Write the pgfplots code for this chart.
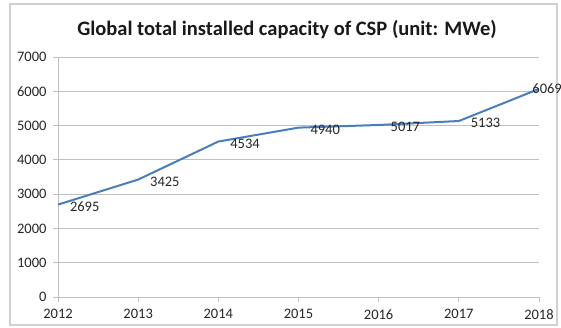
\documentclass[border=0pt]{standalone}
\usepackage{pgfplots}
\pgfplotsset{compat=1.18}
\usepackage{fontspec}
\setmainfont{Carlito}
\definecolor{linec}{HTML}{4A7EBB}
\definecolor{gridc}{HTML}{BFBFBF}
\definecolor{framec}{HTML}{D0D0D0}
\begin{document}
\begin{tikzpicture}[x=1pt,y=1pt]
\useasboundingbox (-58,-31) rectangle (503,297);
\draw[framec, line width=1.2pt] (-48,-28) rectangle (499,293);
\begin{axis}[
  at={(0,0)}, anchor=origin,
  scale only axis, width=481pt, height=240pt,
  xmin=2012, xmax=2018, ymin=0, ymax=7000,
  xtick={2012,...,2018}, ytick={0,1000,...,7000},
  /pgf/number format/assume math mode=true,
  xticklabel style={/pgf/number format/1000 sep={}, yshift=-4pt},
  yticklabel style={/pgf/number format/1000 sep={}, xshift=-3pt},
  ticklabel style={font=\fontsize{14.5}{16}\selectfont, text=black!85},
  axis x line*=bottom, axis y line*=left,
  axis line style={gridc, line width=0.8pt, -},
  x axis line style={-}, y axis line style={-},
  tick style={gridc, line width=0.8pt},
  tick align=outside, major tick length=5pt,
  ymajorgrids, grid style={gridc, line width=0.8pt},
  xtick pos=bottom, ytick pos=left,
  clip=false,
  point meta=explicit symbolic,
  nodes near coords style={anchor=west, inner sep=1pt, font=\fontsize{14.5}{16}\selectfont, text=black!85},
]
\addplot[linec, line width=2pt, mark=none, nodes near coords,
  nodes near coords style={xshift=10pt, yshift=-2pt}] table[meta=lab] {
x y lab
2012 2695 2695
2013 3425 3425
2014 4534 4534
2015 4940 4940
2016 5017 5017
2017 5133 5133
};
\addplot[linec, line width=2pt, mark=none, forget plot] table {
x y
2017 5133
2018 6069
};
\addplot[draw=none, mark=none, nodes near coords,
  nodes near coords style={anchor=east, xshift=24pt, yshift=0pt}] table[meta=lab] {
x y lab
2018 6069 6069
};
\end{axis}
\node[font=\fontsize{20.5}{24}\selectfont\bfseries, text=black!90] at (229,267) {Global total installed capacity of CSP (unit: MWe)};
\end{tikzpicture}
\end{document}
